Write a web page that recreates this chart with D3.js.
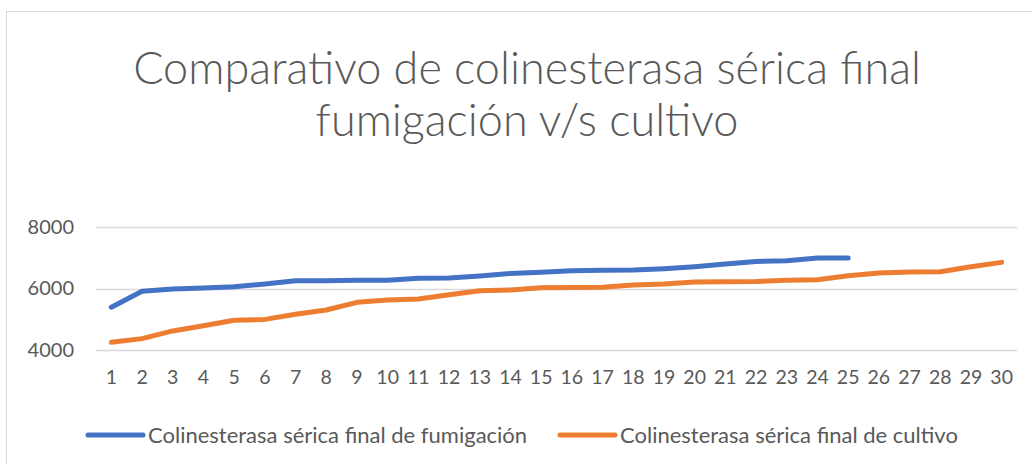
<!DOCTYPE html>
<html>
<head>
<meta charset="utf-8">
<script src="https://cdn.jsdelivr.net/npm/d3@7"></script>
<style>
  html, body { margin: 0; padding: 0; background: #fff; }
  svg { display: block; }
</style>
</head>
<body>
<svg id="chart" width="1032" height="464"></svg>
<script>
// Serum cholinesterase, final measurement per worker
const categories = d3.range(1, 31).map(String);
const fumigacion = [5390, 5910, 5985, 6015, 6060, 6145, 6255, 6255, 6265, 6265,
                    6330, 6340, 6405, 6490, 6530, 6580, 6590, 6600, 6645, 6710,
                    6795, 6880, 6905, 6990, 6990];
const cultivo = [4250, 4370, 4620, 4790, 4965, 4995, 5160, 5300, 5550, 5625,
                 5660, 5800, 5930, 5950, 6025, 6030, 6040, 6115, 6145, 6210,
                 6220, 6230, 6265, 6285, 6415, 6505, 6535, 6545, 6710, 6850];
const yTicks = [4000, 6000, 8000];
const seriesNames = ["Colinesterasa sérica final de fumigación",
                     "Colinesterasa sérica final de cultivo"];
const titleLines = ["Comparativo de colinesterasa sérica final",
                    "fumigación v/s cultivo"];

const font = "Lato, 'Open Sans', sans-serif";
const textColor = "#595959";
const colors = ["#4472C4", "#ED7D31"];

const svg = d3.select("#chart");

// chart frame
svg.append("rect")
  .attr("x", 6.5).attr("y", 11.5)
  .attr("width", 1040).attr("height", 470)
  .attr("fill", "#fff").attr("stroke", "#d9d9d9").attr("stroke-width", 1);

const x = d3.scaleBand().domain(categories).range([96, 1017]);
const y = d3.scaleLinear().domain([4000, 8000]).range([350, 227]);

// title
svg.append("text")
  .attr("x", 527).attr("y", 84)
  .attr("text-anchor", "middle")
  .attr("font-family", font).attr("font-size", 45).attr("font-weight", 300)
  .attr("fill", textColor)
  .selectAll("tspan").data(titleLines).join("tspan")
  .attr("x", 527).attr("dy", (d, i) => i === 0 ? 0 : 52)
  .text(d => d);

// gridlines
svg.append("g")
  .selectAll("line").data(yTicks).join("line")
  .attr("x1", x.range()[0]).attr("x2", x.range()[1])
  .attr("y1", d => Math.round(y(d)) + 0.5).attr("y2", d => Math.round(y(d)) + 0.5)
  .attr("stroke", "#d9d9d9").attr("stroke-width", 1.5);

// y axis labels
const yAxis = svg.append("g")
  .attr("transform", "translate(74,0)")
  .call(d3.axisLeft(y).tickValues(yTicks).tickSize(0).tickPadding(0).tickFormat(d3.format("d")));
yAxis.select(".domain").remove();
yAxis.selectAll("text")
  .attr("font-family", font).attr("font-size", 20).attr("fill", textColor);

// x axis labels
const xAxis = svg.append("g")
  .attr("transform", "translate(0,370)")
  .call(d3.axisBottom(x).tickSize(0).tickPadding(0));
xAxis.select(".domain").remove();
xAxis.selectAll("text")
  .attr("font-family", font).attr("font-size", 19.5).attr("fill", textColor);

// series lines
const line = d3.line()
  .x((d, i) => x(categories[i]) + x.bandwidth() / 2)
  .y(d => y(d));

[fumigacion, cultivo].forEach((vals, k) => {
  svg.append("path")
    .datum(vals)
    .attr("d", line)
    .attr("fill", "none")
    .attr("stroke", colors[k])
    .attr("stroke-width", 5)
    .attr("stroke-linecap", "round")
    .attr("stroke-linejoin", "round");
});

// legend
const legendX = [88, 560];
const legend = svg.append("g").selectAll("g").data(seriesNames).join("g")
  .attr("transform", (d, i) => `translate(${legendX[i]},435)`);
legend.append("line")
  .attr("x1", 0).attr("x2", 55)
  .attr("stroke", (d, i) => colors[i]).attr("stroke-width", 5)
  .attr("stroke-linecap", "round");
legend.append("text")
  .attr("x", 60).attr("dy", "0.35em")
  .attr("font-family", font).attr("font-size", 22).attr("fill", textColor)
  .text(d => d);
</script>
</body>
</html>
